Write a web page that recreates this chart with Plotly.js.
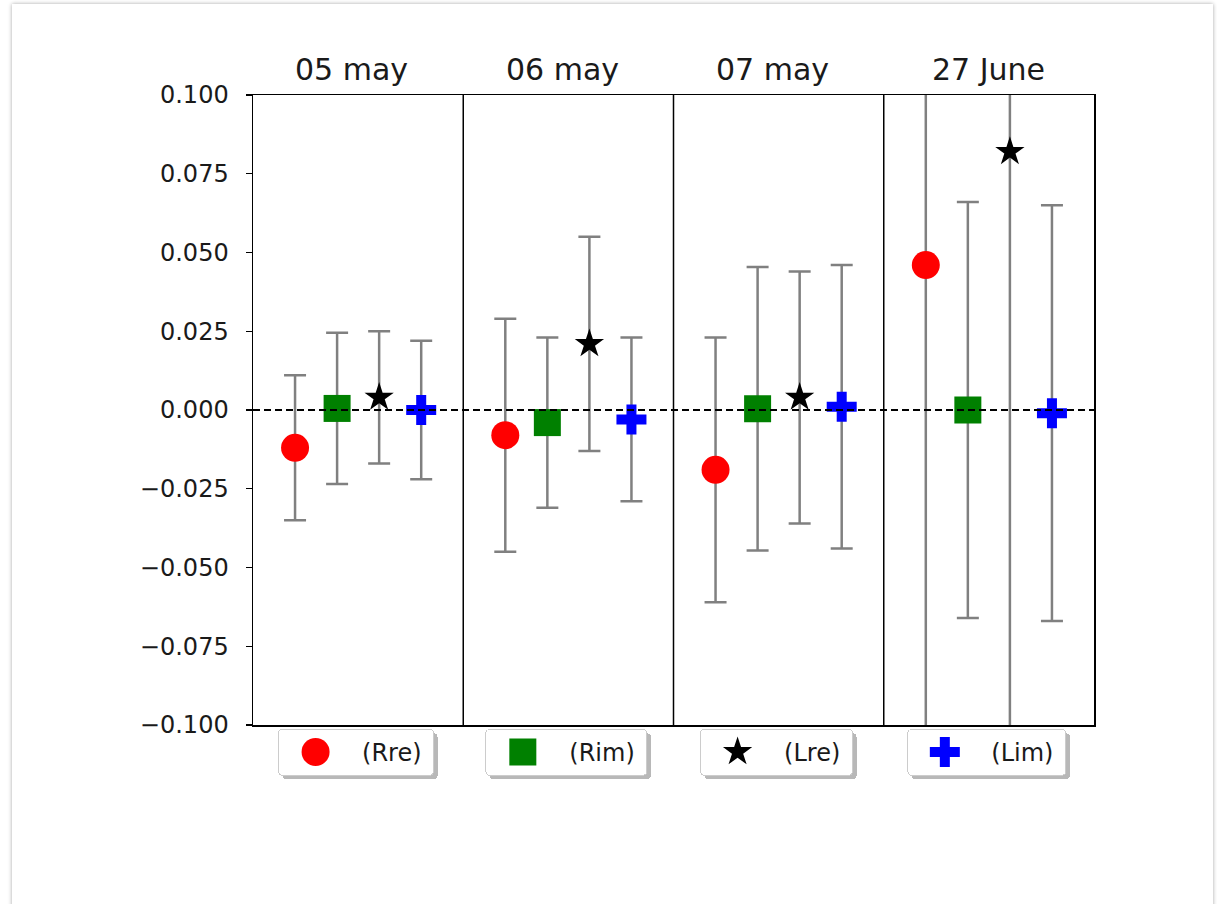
<!DOCTYPE html>
<html>
<head>
<meta charset="utf-8">
<script src="https://cdn.plot.ly/plotly-3.0.1.min.js"></script>
<style>
  html, body { margin: 0; padding: 0; background: #ffffff; }
  #card {
    position: absolute; left: 12px; top: 4px; width: 1201px; height: 920px;
    background: #ffffff; box-shadow: 0 0 4px rgba(0,0,0,0.35);
  }
  #chart { position: absolute; left: 0; top: 0; width: 1217px; height: 904px; }
</style>
</head>
<body>
<div id="card"></div>
<div id="chart"></div>
<script>
// Observation dates, one panel each
const dates = ['05 may', '06 may', '07 may', '27 June'];
const titleX = [0.47, 1.47, 2.47, 3.5];

// Estimates and their uncertainties per date
const Rre = [-0.012, -0.008, -0.019, 0.046];
const RreErr = [0.023, 0.037, 0.042, 0.16];
const Rim = [0.0005, -0.004, 0.0004, 0.0];
const RimErr = [0.024, 0.027, 0.045, 0.066];
const Lre = [0.004, 0.021, 0.004, 0.082];
const LreErr = [0.021, 0.034, 0.040, 0.2];
const Lim = [0.0, -0.003, 0.001, -0.001];
const LimErr = [0.022, 0.026, 0.045, 0.066];

const yTicks = [-0.1, -0.075, -0.05, -0.025, 0, 0.025, 0.05, 0.075, 0.1];

const series = [
  { name: '(Rre)', y: Rre, err: RreErr, offset: 0.2, color: '#ff0000', symbol: 'circle', size: 28, legend: 'legend' },
  { name: '(Rim)', y: Rim, err: RimErr, offset: 0.4, color: '#008000', symbol: 'square', size: 27, legend: 'legend2' },
  { name: '(Lre)', y: Lre, err: LreErr, offset: 0.6, color: '#000000', symbol: 'star', size: 22, legend: 'legend3' },
  { name: '(Lim)', y: Lim, err: LimErr, offset: 0.8, color: '#0000ff', symbol: 'cross', size: 25, legend: 'legend4' }
];

const traces = series.map(s => ({
  type: 'scatter',
  mode: 'markers',
  name: s.name,
  legend: s.legend,
  x: dates.map((_, i) => i + s.offset),
  y: s.y,
  error_y: { type: 'data', array: s.err, visible: true, color: '#808080', thickness: 2.5, width: 11 },
  marker: { color: s.color, symbol: s.symbol, size: s.size, line: { width: 0 } }
}));

const font = { family: 'DejaVu Sans, sans-serif', size: 24, color: '#1a1a1a' };

const shapes = [1, 2, 3].map(v => ({
  type: 'line', xref: 'x', yref: 'paper', x0: v, x1: v, y0: 0, y1: 1,
  line: { color: '#000', width: 1.5 }
}));
shapes.push({
  type: 'line', xref: 'x', yref: 'y', x0: 0, x1: 4, y0: 0, y1: 0,
  line: { color: '#000', width: 2, dash: '7px,4px' }, layer: 'above'
});

const annotations = dates.map((d, i) => ({
  text: d, xref: 'x', yref: 'paper', x: titleX[i], y: 1, yanchor: 'bottom', yshift: 6,
  showarrow: false, font: { family: 'DejaVu Sans, sans-serif', size: 30, color: '#1a1a1a' }
}));

function legendBox(k) {
  return {
    x: (k + 0.5) / 4 - 0.006, xanchor: 'center', y: -0.006, yanchor: 'top',
    bgcolor: '#ffffff', bordercolor: '#cccccc', borderwidth: 1,
    font: font, itemwidth: 73
  };
}

const layout = {
  width: 1217, height: 904,
  paper_bgcolor: 'rgba(0,0,0,0)', plot_bgcolor: '#ffffff',
  margin: { l: 253, r: 123, t: 95, b: 179 },
  font: font,
  showlegend: true,
  legend: legendBox(0), legend2: legendBox(1), legend3: legendBox(2), legend4: legendBox(3),
  xaxis: {
    range: [0, 4], showticklabels: false, ticks: '', showgrid: false, zeroline: false,
    showline: true, linecolor: '#000', linewidth: 1.5, mirror: true
  },
  yaxis: {
    range: [-0.1, 0.1], tickvals: yTicks, tickformat: '.3f', ticks: 'outside',
    ticklen: 6, tickwidth: 1.3, tickcolor: '#000', ticklabelstandoff: 12,
    showgrid: false, zeroline: false, showline: true, linecolor: '#000', linewidth: 1.5, mirror: true,
    tickfont: font
  },
  shapes: shapes,
  annotations: annotations
};

Plotly.newPlot('chart', traces, layout, { staticPlot: true, responsive: false }).then(gd => {
  // legend swatches are capped at 16px: scale them back up to each trace's marker size,
  // then widen each box a little and give it a drop shadow
  ['legend', 'legend2', 'legend3', 'legend4'].forEach((id, k) => {
    const leg = gd.querySelector('g.' + id);
    if (!leg) return;
    const k2 = Math.max(series[k].size, 16) / 16;
    leg.querySelectorAll('path.scatterpts').forEach(p => {
      const t = p.getAttribute('transform') || '';
      p.setAttribute('transform', t + ' translate(-5,0) scale(' + k2 + ')');
    });
    const bg = leg.querySelector('rect.bg');
    if (bg) {
      const w = parseFloat(bg.getAttribute('width'));
      bg.setAttribute('width', w + 6);
      bg.setAttribute('rx', 4); bg.setAttribute('ry', 4);
      const sh = bg.cloneNode(false);
      sh.setAttribute('class', 'shadow');
      sh.style.fill = '#b8b8b8'; sh.style.stroke = 'none';
      sh.setAttribute('transform', (bg.getAttribute('transform') || '') + ' translate(4,4)');
      bg.parentNode.insertBefore(sh, bg);
    }
  });
});
</script>
</body>
</html>
